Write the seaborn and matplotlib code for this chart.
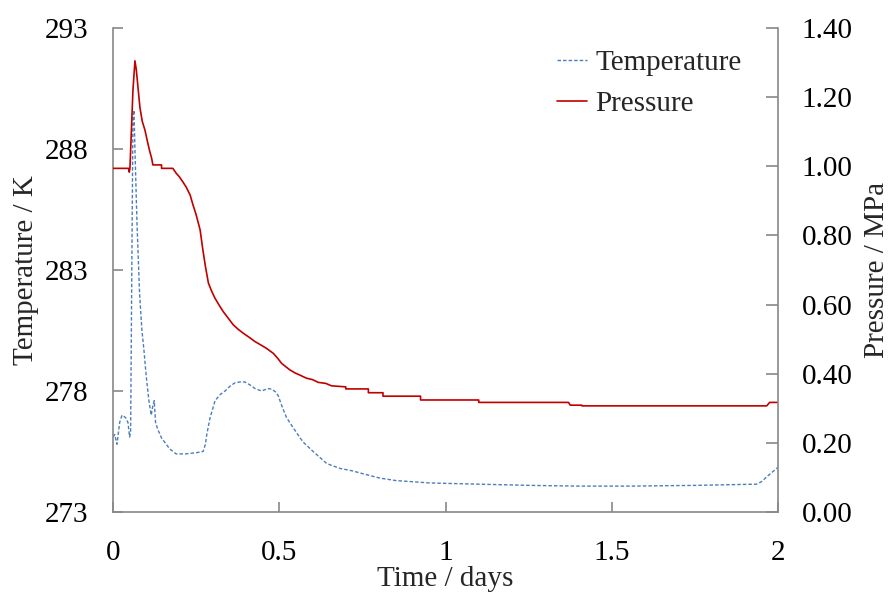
import matplotlib
matplotlib.use("Agg")
import matplotlib.pyplot as plt
import seaborn as sns
import pandas as pd

# temperature trace (days, K)
temp_time = [0.0, 0.005, 0.012, 0.02, 0.027, 0.038, 0.045, 0.050, 0.053, 0.056,
             0.060, 0.063, 0.066, 0.072, 0.080, 0.087, 0.093, 0.100, 0.108, 0.115,
             0.120, 0.124, 0.128, 0.135, 0.146, 0.160, 0.171, 0.19, 0.217, 0.25,
             0.271, 0.278, 0.282, 0.292, 0.307, 0.322, 0.337, 0.352, 0.367, 0.385,
             0.397, 0.412, 0.427, 0.447, 0.465, 0.477, 0.490, 0.497, 0.510, 0.522,
             0.541, 0.571, 0.602, 0.643, 0.683, 0.72, 0.76, 0.803, 0.85, 0.953,
             1.1, 1.254, 1.4, 1.555, 1.75, 1.936, 1.95, 1.97, 1.996, 2.0]
temp_k = [276.1, 276.2, 275.8, 276.7, 277.0, 276.9, 276.7, 276.1, 276.3, 282.0,
          289.3, 289.6, 288.0, 285.0, 282.0, 280.5, 279.7, 278.6, 277.6, 277.0,
          277.4, 277.6, 276.7, 276.4, 276.06, 275.8, 275.6, 275.4, 275.4, 275.45,
          275.5, 275.8, 276.2, 276.9, 277.6, 277.85, 278.0, 278.2, 278.34, 278.38,
          278.37, 278.25, 278.1, 278.0, 278.1, 278.08, 277.95, 277.8, 277.3, 276.9,
          276.5, 275.9, 275.5, 275.0, 274.8, 274.7, 274.55, 274.4, 274.3, 274.2,
          274.15, 274.1, 274.07, 274.07, 274.1, 274.15, 274.25, 274.5, 274.8, 274.85]

# pressure trace (days, MPa); repeated times are the visible steps
pres_time = [0.0, 0.047, 0.049, 0.051, 0.056, 0.060, 0.066, 0.070, 0.075, 0.081,
             0.088, 0.096, 0.104, 0.110, 0.116, 0.120, 0.146, 0.146, 0.180, 0.190,
             0.200, 0.210, 0.220, 0.232, 0.240, 0.250, 0.262, 0.270, 0.278, 0.287,
             0.297, 0.307, 0.320, 0.332, 0.347, 0.362, 0.377, 0.392, 0.410, 0.427,
             0.445, 0.462, 0.482, 0.495, 0.507, 0.52, 0.532, 0.548, 0.562, 0.582,
             0.600, 0.617, 0.640, 0.657, 0.700, 0.700, 0.768, 0.768, 0.812, 0.812,
             0.925, 0.925, 1.100, 1.100, 1.370, 1.375, 1.41, 1.41, 1.966, 1.975, 2.0]
pres_mpa = [0.994, 0.994, 0.983, 0.995, 1.12, 1.22, 1.305, 1.28, 1.23, 1.17,
            1.13, 1.105, 1.07, 1.045, 1.024, 1.004, 1.004, 0.994, 0.994, 0.98,
            0.969, 0.955, 0.94, 0.917, 0.89, 0.86, 0.816, 0.76, 0.71, 0.662,
            0.638, 0.618, 0.597, 0.579, 0.56, 0.541, 0.528, 0.517, 0.505, 0.493,
            0.483, 0.473, 0.459, 0.445, 0.43, 0.42, 0.411, 0.402, 0.396, 0.387,
            0.383, 0.375, 0.372, 0.365, 0.362, 0.356, 0.356, 0.345, 0.345, 0.335,
            0.335, 0.324, 0.324, 0.317, 0.317, 0.309, 0.309, 0.307, 0.307, 0.317, 0.317]

x_ticks = [0, 0.5, 1, 1.5, 2]
x_tick_labels = ["0", "0.5", "1", "1.5", "2"]
t_ticks = [273, 278, 283, 288, 293]
p_ticks = [0.0, 0.2, 0.4, 0.6, 0.8, 1.0, 1.2, 1.4]

FS = 21

sns.set_style("white")
plt.rcParams["font.family"] = ["Liberation Serif", "DejaVu Serif"]
plt.rcParams["font.size"] = FS

temp_df = pd.DataFrame({"time": temp_time, "temp": temp_k})
pres_df = pd.DataFrame({"time": pres_time, "pres": pres_mpa})

fig = plt.figure(figsize=(8.92, 5.97), dpi=100)
ax = fig.add_axes([113 / 892, 85 / 597, 665 / 892, 484 / 597])
ax2 = ax.twinx()

blue = "#4A7EBB"
red = "#C00000"
sns.lineplot(data=temp_df, x="time", y="temp", ax=ax, color=blue, lw=1.0,
             linestyle=(0, (2.5, 1.5)), sort=False, estimator=None,
             label="Temperature", legend=False)
sns.lineplot(data=pres_df, x="time", y="pres", ax=ax2, color=red, lw=1.2,
             sort=False, estimator=None, label="Pressure", legend=False)

ax.set_xlim(0, 2)
ax.set_ylim(273, 293)
ax2.set_ylim(0, 1.4)
ax.set_xticks(x_ticks)
ax.set_xticklabels(x_tick_labels)
ax.set_yticks(t_ticks)
ax.set_yticklabels([str(t) for t in t_ticks])
ax2.set_yticks(p_ticks)
ax2.set_yticklabels([f"{p:.2f}" for p in p_ticks])

spine_col = "#888888"
for a in (ax, ax2):
    for side, sp in a.spines.items():
        sp.set_color(spine_col)
        sp.set_linewidth(1.2)
    a.spines["top"].set_visible(False)
ax.spines["right"].set_visible(False)
ax2.spines["left"].set_visible(False)
ax2.spines["bottom"].set_visible(False)

ax.tick_params(axis="both", direction="in", length=7, width=1.2, color=spine_col,
               labelcolor="black", labelsize=FS)
ax.tick_params(axis="y", pad=17.5, left=True)
ax.tick_params(axis="x", pad=20, bottom=True)
ax2.tick_params(axis="y", direction="in", length=9, width=1.2, color=spine_col,
                labelcolor="black", labelsize=FS, pad=17, right=True)

ax.set_xlabel("Time / days", fontsize=FS)
ax.set_ylabel("Temperature / K", fontsize=FS)
ax2.set_ylabel("Pressure / MPa", fontsize=FS)
ax.xaxis.set_label_coords(0.5, -0.112)
ax.yaxis.set_label_coords(-0.111, 0.5)
ax2.yaxis.set_label_coords(1.130, 0.5)

h1, l1 = ax.get_legend_handles_labels()
h2, l2 = ax2.get_legend_handles_labels()
ax2.legend(h1 + h2, l1 + l2, loc="upper left", bbox_to_anchor=(0.668, 0.9545),
           frameon=False, borderpad=0, borderaxespad=0, handlelength=1.03,
           handletextpad=0.27, labelspacing=0.5, fontsize=FS)

fig.savefig("out.png", dpi=100)
